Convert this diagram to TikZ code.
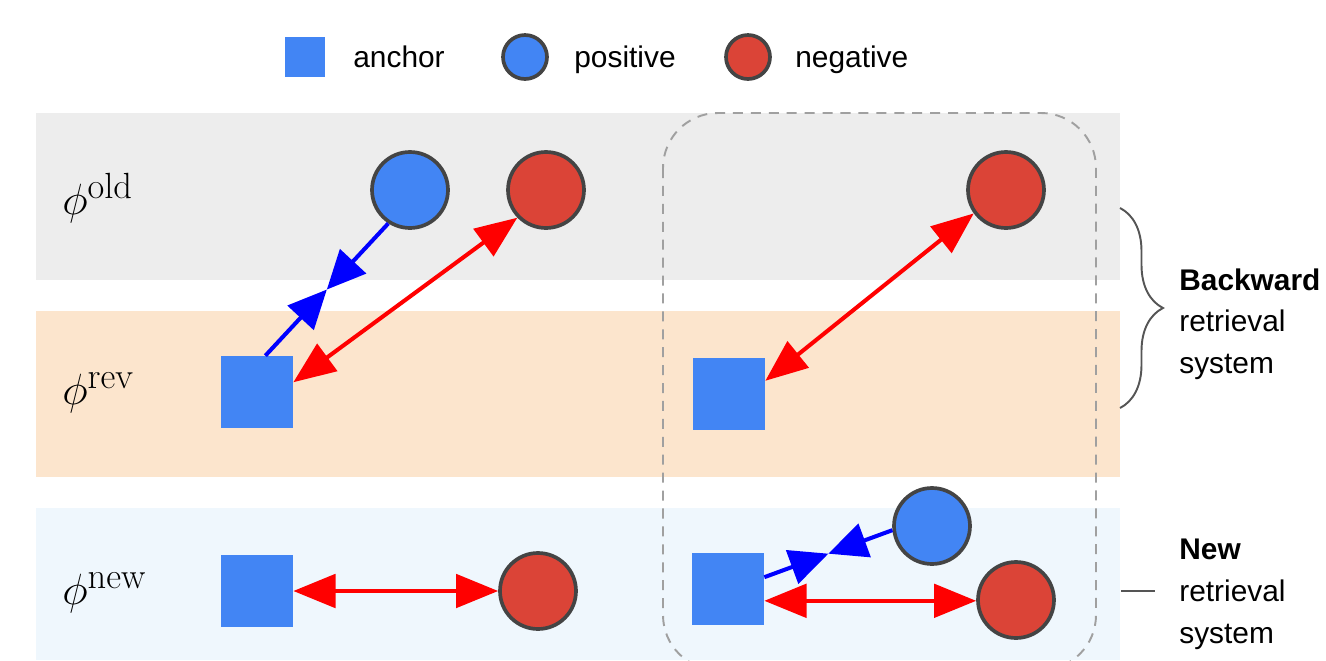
\documentclass[tikz,border=0pt]{standalone}
\usepackage[no-math]{fontspec}
\setmainfont{Liberation Sans}
\usetikzlibrary{arrows.meta,calc,decorations.pathreplacing}
\definecolor{anchorblue}{HTML}{4285F4}
\definecolor{negred}{HTML}{DB4437}
\definecolor{ringgray}{HTML}{444444}
\definecolor{oldband}{HTML}{EDEDED}
\definecolor{revband}{HTML}{FCE5CD}
\definecolor{newband}{HTML}{EFF7FD}
\definecolor{boxgray}{HTML}{A0A0A0}
\definecolor{bracegray}{HTML}{555555}
\begin{document}
\begin{tikzpicture}[x=0.02cm,y=-0.02cm,
    anchorbox/.style={fill=anchorblue,minimum size=1.44cm,inner sep=0pt},
    posdot/.style={circle,draw=ringgray,line width=2.1pt,fill=anchorblue,minimum size=1.52cm,inner sep=0pt},
    negdot/.style={posdot,fill=negred},
    negarr/.style={red,line width=2.3pt,{Triangle[length=24pt,width=19pt]}-{Triangle[length=24pt,width=19pt]}},
    posarr/.style={blue,line width=2.3pt,-{Triangle[length=22pt,width=20pt]}},
    lab/.style={font=\fontsize{17pt}{24pt}\selectfont,inner sep=0pt},
    philab/.style={anchor=base west,inner sep=0pt,font=\fontsize{29pt}{33pt}\selectfont}]
    \useasboundingbox (0,0) rectangle (1326,660);
    % Bands
    \fill[oldband] (36,113) rectangle (1120,280);
    \fill[revband] (36,311) rectangle (1120,477);
    \fill[newband] (36,508) rectangle (1120,660);
    \node[philab] (old) at (62,214) {$\phi^{\mathrm{old}}$};
    \node[philab] (rev) at (62,404) {$\phi^{\mathrm{rev}}$};
    \node[philab] (new) at (62,604) {$\phi^{\mathrm{new}}$};
    % Legend
    \node[anchorbox,minimum size=0.8cm] (leganc) at (305,57) {};
    \node[lab,anchor=base west] (leganctxt) at (353,67) {anchor};
    \node[posdot,minimum size=0.88cm] (legpos) at (525,57) {};
    \node[lab,anchor=base west] (legpostxt) at (574,67) {positive};
    \node[negdot,minimum size=0.88cm] (legneg) at (748,57) {};
    \node[lab,anchor=base west] (legnegtxt) at (795,67) {negative};
    % Dashed group
    \draw[boxgray,line width=1.1pt,dash pattern=on 5.7pt off 4.5pt,rounded corners=1.1cm] (663,113) rectangle (1096,670);
    % Left column
    \node[posdot] (pos1) at (410,190) {};
    \node[negdot] (neg1) at (546,190) {};
    \node[anchorbox] (anc1) at (257,392) {};
    \coordinate (m1) at ($(pos1.237)!.5!(anc1.77)$);
    \draw[posarr] (pos1.237) -- (m1);
    \draw[posarr] (anc1.77) -- (m1);
    \draw[negarr] (anc1.15) -- (neg1.224);
    \node[anchorbox] (anc3) at (257,591) {};
    \node[negdot] (neg3) at (538,591) {};
    \draw[negarr] (anc3) -- (neg3);
    % Right column
    \node[negdot] (neg2) at (1006,190) {};
    \node[anchorbox] (anc2) at (729,394) {};
    \draw[negarr] (anc2.20) -- (neg2.216);
    \node[anchorbox] (anc4) at (728,589) {};
    \node[posdot] (pos4) at (932,526) {};
    \node[negdot] (neg4) at (1016,600) {};
    \coordinate (m4) at ($(pos4.186)!.5!(anc4.18)$);
    \draw[posarr] (pos4.186) -- (m4);
    \draw[posarr] (anc4.18) -- (m4);
    \draw[negarr] (anc4.-18) -- (anc4.-18 -| neg4.west);
    % Systems
    \coordinate (bracetop) at (1120,208);
    \coordinate (bracebot) at (1120,408);
    \draw[bracegray,line width=1.1pt,decorate,decoration={brace,amplitude=0.86cm}] (bracetop) -- (bracebot);
    \node[lab,anchor=north west,align=left,font=\fontsize{17pt}{23.9pt}\selectfont] (backward) at (1179,268) {\textbf{Backward}\\retrieval\\system};
    \coordinate (newtick) at (1121,591);
    \draw[bracegray,line width=1.1pt] (newtick) -- ++(34,0);
    \node[lab,anchor=north west,align=left,font=\fontsize{17pt}{23.9pt}\selectfont] (newsys) at (1179,539) {\textbf{New}\\retrieval\\system};
\end{tikzpicture}
\end{document}
